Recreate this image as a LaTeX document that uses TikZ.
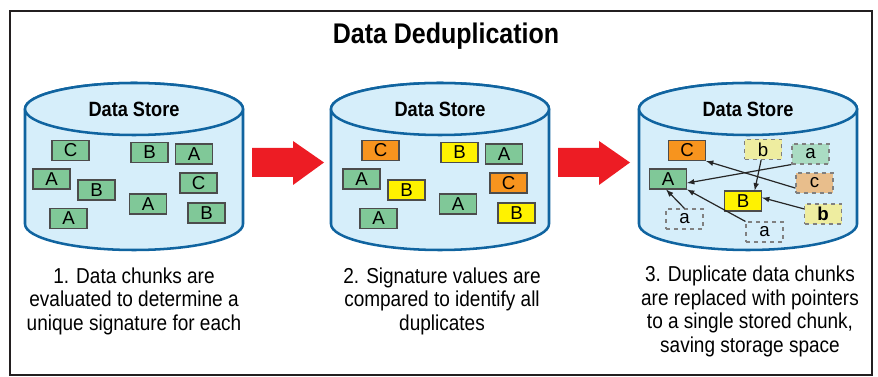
\documentclass[tikz,border=0pt]{standalone}
\usepackage{fontspec}
\setmainfont{Liberation Sans}[FakeStretch=0.88]
\newfontfamily\chunkfont{Liberation Sans}
\usepackage{tikz}
\usetikzlibrary{positioning}
\definecolor{storefill}{RGB}{214,238,250}
\definecolor{storeline}{RGB}{16,100,160}
\definecolor{chunkgreen}{RGB}{128,200,152}
\definecolor{chunkorange}{RGB}{247,148,30}
\definecolor{chunkyellow}{RGB}{255,242,0}
\definecolor{paleyellow}{RGB}{238,237,160}
\definecolor{palegreen}{RGB}{170,220,195}
\definecolor{paleorange}{RGB}{232,190,140}
\definecolor{arrowred}{RGB}{237,28,36}
\definecolor{framegray}{RGB}{35,31,32}

\begin{document}
\begin{tikzpicture}[
        x=0.75pt, y=-0.75pt,
        store/.style={fill=storefill, draw=storeline, line width=1.9pt},
        chunk/.style={rectangle, draw=black!70, line width=0.8pt, minimum width=27.75pt, minimum height=15pt, inner sep=0pt, font=\chunkfont\fontsize{14}{14}\selectfont},
        sigA/.style={chunk, fill=chunkgreen},
        sigB/.style={chunk, fill=chunkyellow},
        sigC/.style={chunk, fill=chunkorange},
        dup/.style={chunk, draw=black!50, dashed},
        pointer/.style={->, >=latex, line width=0.9pt, draw=black!85},
        caption/.style={align=center, anchor=north, inner sep=0pt, font=\fontsize{16.2}{17.6}\selectfont},
        storelabel/.style={anchor=base, inner sep=0pt, font=\bfseries\fontsize{15.5}{15.5}\selectfont}
    ]
    \useasboundingbox (0,0) rectangle (878,377);

    % Frame and title
    \draw[framegray, line width=1.6pt] (10,11) rectangle (872,375);
    \node[anchor=base, inner sep=0pt, font=\bfseries\fontsize{21.3}{21.3}\selectfont] (title) at (446,44) {Data Deduplication};

    % Data stores
    \foreach \cx/\n in {134/1, 440/2, 748/3} {
        \filldraw[store] (\cx-109,109) -- (\cx-109,224)
            arc[start angle=180, end angle=0, x radius=109, y radius=26]
            -- (\cx+109,109)
            arc[start angle=0, end angle=-180, x radius=109, y radius=26] -- cycle;
        \draw[store] (\cx,109) ellipse[x radius=109, y radius=26];
        \node[storelabel] (store\n) at (\cx,116.5) {Data Store};
    }

    % Arrows between stores
    \foreach \ax in {252, 558} {
        \fill[arrowred] (\ax,148) -- ++(41,0) -- ++(0,-7) -- (\ax+72,162.5)
            -- (\ax+41,185) -- ++(0,-8) -- (\ax,177) -- cycle;
    }

    % Stage 1 and stage 2 chunks
    \foreach \px/\py/\t [count=\k] in {70.5/150.5/C, 149.5/152.5/B, 194/154/A,
            51.5/179/A, 96.5/190/B, 198.5/183/C, 148/204/A, 68.5/218.5/A, 206.5/213/B} {
        \node[sigA] (a\k) at (\px,\py) {\t};
        \node[sig\t] (b\k) at (\px+310,\py) {\t};
    }

    % Stage 3 chunks
    \node[sigC] (kC) at (687,150.5) {C};
    \node[sigA] (kA) at (668,179) {A};
    \node[sigB] (kB) at (743,201) {B};
    \node[dup, fill=paleyellow] (p1) at (763,149.5) {b};
    \node[dup, fill=palegreen] (p2) at (810.5,154) {a};
    \node[dup, fill=paleorange] (p3) at (814.5,183) {c};
    \node[dup] (p4) at (684.5,219) {a};
    \node[dup] (p5) at (764.5,232) {a};
    \node[dup, fill=paleyellow] (p6) at (823,214) {\textbf{b}};

    % Pointers to stored chunks
    \draw[pointer] (p2.south west) -- (kA.-12);
    \draw[pointer] (p3.195) -- (kC.south east);
    \draw[pointer] (p1.-100) -- (kB.42);
    \draw[pointer] (p6.165) -- (kB.10);
    \draw[pointer] (p4.north) -- (kA.-100);
    \draw[pointer] (p5.north west) -- (kA.south east);

    % Captions
    \node[caption] (cap1) at (134,267.5) {1. Data chunks are\\evaluated to determine a\\unique signature for each};
    \node[caption] (cap2) at (442,267.5) {2. Signature values are\\compared to identify all\\duplicates};
    \node[caption] (cap3) at (750,266) {3. Duplicate data chunks\\are replaced with pointers\\to a single stored chunk,\\saving storage space};

\end{tikzpicture}
\end{document}
